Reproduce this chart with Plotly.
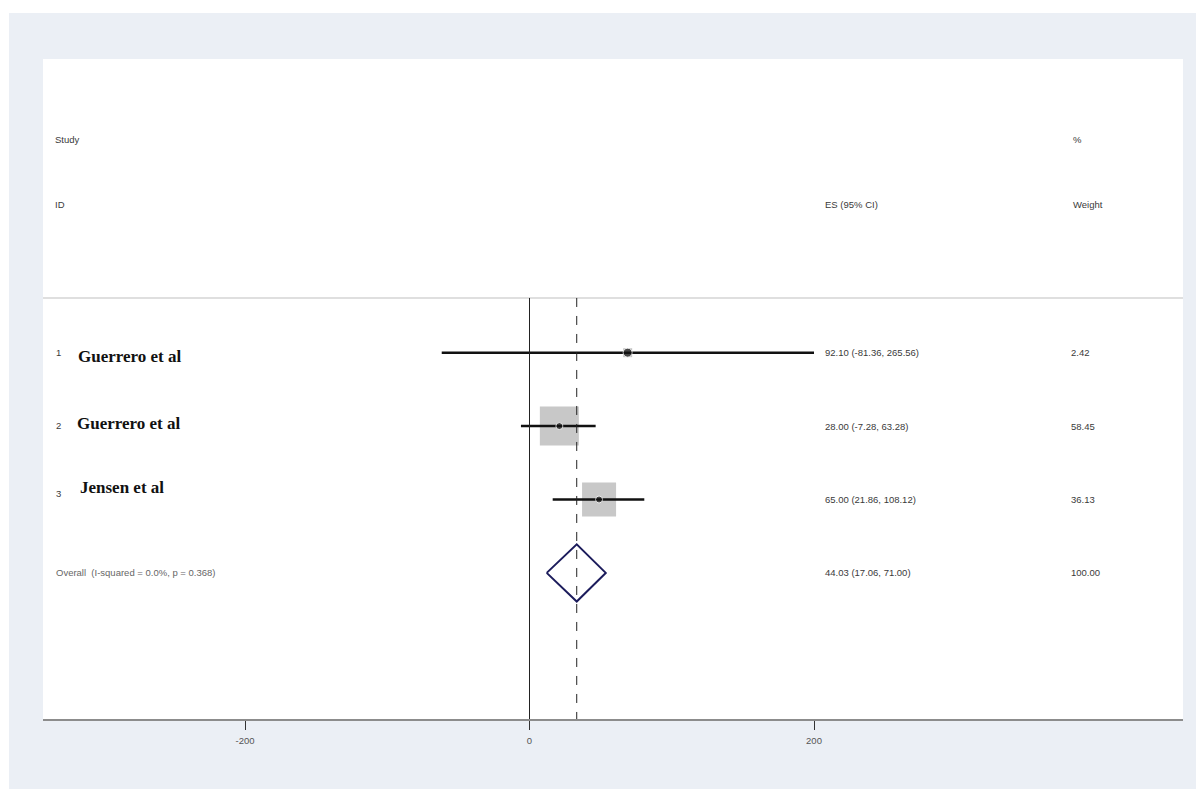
import plotly.graph_objects as go

# ---------------- data ----------------
study_ids = ["1", "2", "3"]
study_names = ["Guerrero et al", "Guerrero et al", "Jensen et al"]
es_text = ["92.10 (-81.36, 265.56)", "28.00 (-7.28, 63.28)", "65.00 (21.86, 108.12)"]
weight_text = ["2.42", "58.45", "36.13"]
weights = [2.42, 58.45, 36.13]

# plotted positions (as drawn in the picture)
es_drawn = [69.0, 21.0, 48.9]
ci_low_drawn = [-61.7, -6.0, 16.3]
ci_high_drawn = [200.0, 46.5, 80.7]

overall_label = "Overall  (I-squared = 0.0%, p = 0.368)"
overall_es_text = "44.03 (17.06, 71.00)"
overall_weight_text = "100.00"
overall_es = 33.2
overall_low = 12.1
overall_high = 53.6

x_ticks = [-200, 0, 200]
x_tick_labels = ["-200", "0", "200"]

rows = [1, 2, 3]
overall_row = 4

# ---------------- layout helpers ----------------
L, R, T, B = 43, 1183, 59, 719
W, H = 1196, 789


def xp(px):
    return (px - L) / (R - L)


def yp(py):
    return (B - py) / (B - T)


small_font = dict(family="Liberation Sans, Arial, sans-serif", size=9.5, color="#3a3a3a")
name_font = dict(family="Liberation Serif, Times New Roman, serif", size=17, color="#111111")

fig = go.Figure()

# weight squares
sq_sizes = [9, 39, 34]
fig.add_trace(go.Scatter(
    x=es_drawn, y=rows, mode="markers",
    marker=dict(symbol="square", size=sq_sizes, color="#b0b0b0", line=dict(width=0)),
    hoverinfo="skip", showlegend=False))

# CI lines
cx, cy = [], []
for lo, hi, r in zip(ci_low_drawn, ci_high_drawn, rows):
    cx += [lo, hi, None]
    cy += [r, r, None]
fig.add_trace(go.Scatter(x=cx, y=cy, mode="lines", line=dict(color="#111111", width=2.5),
                         hoverinfo="skip", showlegend=False))

# point estimates
fig.add_trace(go.Scatter(
    x=es_drawn, y=rows, mode="markers",
    marker=dict(symbol="circle", size=[9, 7, 7], color="#111111"),
    hoverinfo="skip", showlegend=False))

# overall diamond
dh = 0.39
fig.add_trace(go.Scatter(
    x=[overall_low, overall_es, overall_high, overall_es, overall_low],
    y=[overall_row, overall_row - dh, overall_row, overall_row + dh, overall_row],
    mode="lines", line=dict(color="#1c1c5c", width=2),
    hoverinfo="skip", showlegend=False))

header_y = 0.255
y_bottom = 5.99
y_top = -3.0

shapes = [
    # header separator
    dict(type="line", xref="paper", yref="y", x0=0, x1=1, y0=header_y, y1=header_y,
         line=dict(color="#d5d5d5", width=1.5), layer="below"),
    # null line
    dict(type="line", xref="x", yref="y", x0=0, x1=0, y0=header_y, y1=y_bottom,
         line=dict(color="#222222", width=1)),
    # overall dashed line
    dict(type="line", xref="x", yref="y", x0=overall_es, x1=overall_es, y0=header_y, y1=y_bottom,
         line=dict(color="#222222", width=1, dash="dash")),
    # white outer strips (top / left)
    dict(type="rect", xref="paper", yref="paper",
         x0=xp(0), x1=xp(W), y0=yp(13), y1=yp(0),
         fillcolor="white", line=dict(width=0), layer="above"),
    dict(type="rect", xref="paper", yref="paper",
         x0=xp(0), x1=xp(9), y0=yp(H), y1=yp(0),
         fillcolor="white", line=dict(width=0), layer="above"),
]

ann = []


def add_text(px, y, text, font, yref="y"):
    # annotations carry ~2px of internal padding; shift left to compensate
    ann.append(dict(x=xp(px - 2), xref="paper", y=y, yref=yref, text=text, showarrow=False,
                    xanchor="left", yanchor="middle", font=font))


def row_y(py):
    return 1 + (py - 352.7) / 73.4


# headers
add_text(55, row_y(140), "Study", small_font)
add_text(55, row_y(205), "ID", small_font)
add_text(825, row_y(205), "ES (95% CI)", small_font)
add_text(1073, row_y(140), "%", small_font)
add_text(1073, row_y(205), "Weight", small_font)

# study rows
num_py = [352.7, 425.7, 493.3]
name_py = [356.7, 423.3, 487.3]
name_px = [78, 77, 80]
for i in range(3):
    add_text(56, row_y(num_py[i]), study_ids[i], small_font)
    add_text(name_px[i], row_y(name_py[i]), "<b>" + study_names[i] + "</b>", name_font)
    add_text(825, rows[i], es_text[i], small_font)
    add_text(1071, rows[i], weight_text[i], small_font)

add_text(56, overall_row, overall_label, dict(small_font, color="#666666"))
add_text(825, overall_row, overall_es_text, small_font)
add_text(1071, overall_row, overall_weight_text, small_font)

fig.update_layout(
    width=W, height=H,
    margin=dict(l=L, r=W - R, t=T, b=H - B, pad=0),
    paper_bgcolor="#ebeff5",
    plot_bgcolor="white",
    shapes=shapes,
    annotations=ann,
    xaxis=dict(range=[-342.0, 459.4], tickvals=x_ticks, ticktext=x_tick_labels,
               showgrid=False, zeroline=False, showline=True, linecolor="#8c8c8c", linewidth=2,
               ticks="outside", ticklen=9, tickcolor="#333333", tickwidth=1,
               tickfont=dict(family="Liberation Sans, Arial, sans-serif", size=9.5, color="#555555"),
               ticklabelstandoff=3, fixedrange=True),
    yaxis=dict(range=[y_bottom, y_top], visible=False, showgrid=False, zeroline=False, fixedrange=True),
    showlegend=False,
)

fig.write_html("out.html", config={"displayModeBar": False},
               post_script="document.body.style.margin='0';document.body.style.overflow='hidden';")
